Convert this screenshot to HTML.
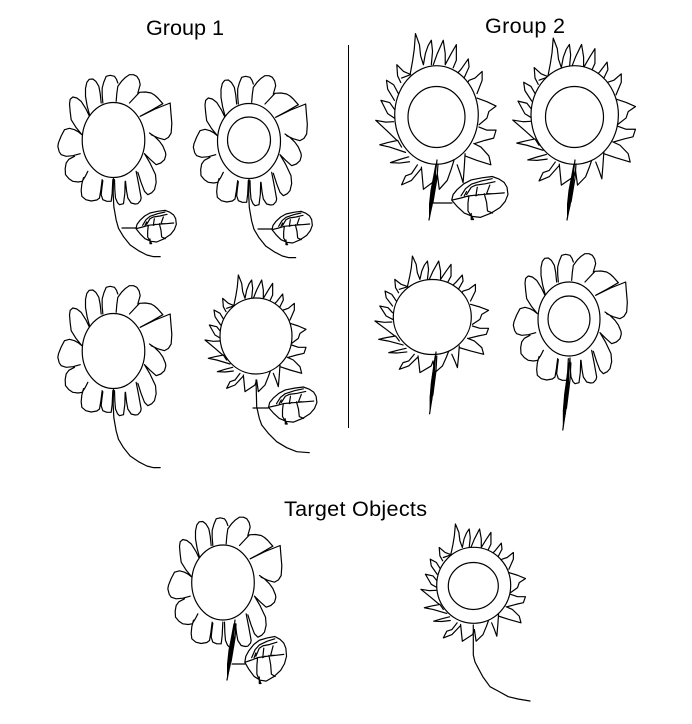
<!DOCTYPE html>
<html>
<head>
<meta charset="utf-8">
<style>
html,body{margin:0;padding:0;background:#fff;}
svg{display:block;}
.l{fill:none;stroke:#000;stroke-width:1.2;stroke-linejoin:round;stroke-linecap:round;vector-effect:non-scaling-stroke;}
.d{fill:#fff;stroke:#000;stroke-width:1.2;vector-effect:non-scaling-stroke;}
text{font-family:"Liberation Sans",sans-serif;font-size:21.6px;fill:#000;}
</style>
</head>
<body>
<svg width="692" height="724" viewBox="0 0 692 724" xmlns="http://www.w3.org/2000/svg">
<defs>
<g id="petals" transform="translate(-190,-240)">
<path class="l" d="M118 169L108 148 93 124 80 114 68 111 60 118 58 132 60 155 63 179 78 203 95 224
M95 224L84 215 73 209 58 205 43 209 33 228 25 248 23 259 27 275 33 284 48 289 68 287 90 281
M73 289L56 298 48 309 45 326 46 344 56 356 68 364 84 366 96 364 106 348 113 334
M100 353L95 372 93 392 95 409 107 419 123 423 140 420 148 414 152 390 156 359
M158 362L155 385 153 404 158 419 170 424 183 424 186 400 188 359
M193 359L194 390 196 414 202 428 208 434 220 431 224 400 225 364
M226 364L229 392 233 414 243 429 255 432 263 431 271 422 273 414 266 375 258 334
M263 337L273 368 283 394 293 404 305 398 313 389 318 368 316 344 300 310 283 281
M283 281L300 298 318 314 332 309 343 299 347 285 346 277 338 258 328 244 314 230 298 219
M303 224L322 233 343 239 355 232 363 219 365 190 362 155 360 129 315 147 270 169
M270 169L305 150 338 131 330 122 323 114 313 105 303 99 286 96 268 97 252 114 238 129
M198 124L200 100 203 79 214 64 226 52 238 44 250 44 260 49 267 60 270 74 263 99
M158 129L156 105 156 84 161 66 168 49 180 46 193 49 199 58 203 69
M153 129L150 100 146 79 137 64 128 57 117 58 110 67 106 85 106 109 111 138 118 164"/>
</g>
<g id="curve" transform="translate(-190,-240)">
<path class="l" d="M190 352L189 400 191 440 198 480 205 505 220 530 240 555 265 572 290 585 310 590 330 590"/>
</g>
<g id="leaf">
<path class="l" d="M-60 5L-57 -8 -48 -20 -34 -33 -18 -42 5 -47 27 -50 42 -44 53 -36 59 -25 61 -8 55 8 44 22 25 35 2 45 -15 43 -33 35 -48 20 -60 5
M-60 5L-40 0 -23 -5 5 -8 30 -10 53 -12
M-40 -5L-30 -22 -18 -32 5 -40 27 -45
M-28 -8L-18 -25 -8 -30 12 -33 33 -38
M-23 -5L-25 12 -25 30 -18 42 -13 50 -18 50 -18 36
M10 -10L15 10 17 30 28 35
M-5 -25L-8 -5 -2 -8
M22 -30L15 -10 30 -10
M-33 -5L-28 -15"/>
</g>
<g id="spikes" transform="translate(-168,-198)">
<path class="l" d="M102 105L108 75 112 50 115 15 125 40 128 65 135 85
M135 85L140 60 147 42 155 30 158 55 155 85
M160 85L170 60 185 30 190 60 190 85
M190 85L205 60 218 40 218 75 210 92
M213 112L230 95 248 72 250 90 235 120
M240 135L250 120 265 115 283 100 283 120 270 150
M270 160L295 168 318 178 300 190 295 205 275 220
M275 225L295 232 318 232 312 250 290 255 265 262
M262 262L280 270 300 290 305 310 270 300 240 290
M240 285L238 315 235 350 228 330 220 310
M212 300L205 320 195 345 175 365 170 330 165 345 135 365 130 315
M120 310L105 330 90 335 80 355 105 345 130 318
M98 292L75 298 52 305 75 306 100 303
M80 270L70 255 45 260 25 265 50 270 90 282
M68 255L45 235 15 210 40 214 60 213
M62 205L45 195 28 165 50 170 62 185
M75 155L60 130 42 120 45 140 62 165
M78 125L70 110 68 85 85 100 103 107 80 115"/>
</g>
<g id="dark">
<path class="l" d="M0 0L-2 16 -3 28 -5 44 -8 60 M-1 4L-5 26 -7 44 M1 4L0 18 -2 30 -4 42"/>
<path d="M-1 8L-1 20 -2.500 34 -4.500 46 -8 60 -8 44 -6.500 30 -4 18Z" fill="#000"/>
</g>
</defs>

<text x="146" y="35" textLength="78">Group 1</text>
<text x="485" y="33" textLength="80">Group 2</text>
<text x="284" y="516" textLength="143">Target Objects</text>
<line x1="348.5" y1="45" x2="348.5" y2="428" stroke="#000" stroke-width="1"/>

<!-- Group 1, flower 1 -->
<g transform="translate(113.5,140) scale(.3333)"><use href="#petals"/><use href="#curve"/></g>
<ellipse class="d" cx="113.5" cy="140" rx="31.3" ry="37.5"/>
<line class="l" x1="122" y1="228" x2="136" y2="228"/>
<g transform="translate(156,227) scale(.3333)"><use href="#leaf"/></g>

<!-- Group 1, flower 2 -->
<g transform="translate(249,141) scale(.3333)"><use href="#petals"/><use href="#curve"/></g>
<ellipse class="d" cx="249" cy="141" rx="31.5" ry="37.5"/>
<ellipse class="d" cx="249" cy="140" rx="21.5" ry="23"/>
<line class="l" x1="258" y1="229" x2="272" y2="229"/>
<g transform="translate(292,228) scale(.3333)"><use href="#leaf"/></g>

<!-- Group 1, flower 3 -->
<g transform="translate(113.5,351) scale(.3333)"><use href="#petals"/><use href="#curve"/></g>
<ellipse class="d" cx="113.5" cy="351" rx="31.3" ry="37.5"/>

<!-- Group 1, flower 4 -->
<g transform="translate(256,336) scale(.3333)"><use href="#spikes"/></g>
<path class="l" d="M256 380L256.700 406.700 259.300 418.300 261.700 425 268.300 433.300 276.700 441.700 286.700 447.700 296.700 451.700 309.300 452.700"/>
<ellipse class="d" cx="256" cy="336" rx="36" ry="38"/>
<line class="l" x1="253" y1="408" x2="268" y2="408"/>
<g transform="translate(292.500,405.500) scale(.4,.37)"><use href="#leaf"/></g>

<!-- Group 2, flower 1 -->
<g transform="translate(436.500,115) scale(.397,.445)"><use href="#spikes"/></g>
<ellipse class="d" cx="436.500" cy="115" rx="41.800" ry="49.300"/>
<ellipse class="d" cx="436.500" cy="117" rx="28.500" ry="30.500"/>
<g transform="translate(437,160)"><use href="#dark"/></g>
<line class="l" x1="433" y1="203" x2="452" y2="203"/>
<g transform="translate(479.600,198) scale(.465,.43)"><use href="#leaf"/></g>

<!-- Group 2, flower 2 -->
<g transform="translate(574.700,115) scale(.405,.42)"><use href="#spikes"/></g>
<ellipse class="d" cx="574.700" cy="115" rx="43.700" ry="49.300"/>
<ellipse class="d" cx="574.500" cy="117" rx="29" ry="30.500"/>
<g transform="translate(575,160)"><use href="#dark"/></g>

<!-- Group 2, flower 3 -->
<g transform="translate(432.300,317) scale(.375,.333)"><use href="#spikes"/></g>
<ellipse class="d" cx="432.300" cy="317" rx="39" ry="37.500"/>
<g transform="translate(436,352) scale(.8,1.03)"><use href="#dark"/></g>

<!-- Group 2, flower 4 -->
<g transform="translate(569,319) scale(.3333)"><use href="#petals"/></g>
<ellipse class="d" cx="569" cy="319" rx="31" ry="37"/>
<ellipse class="d" cx="569" cy="319" rx="21" ry="23"/>
<g transform="translate(570,358) scale(.9,1.2)"><use href="#dark"/></g>

<!-- Target 1 -->
<g transform="translate(223.500,582.500) scale(.3333)"><use href="#petals"/></g>
<ellipse class="d" cx="223" cy="582.500" rx="31.300" ry="37.500"/>
<g transform="translate(235,620)"><use href="#dark"/></g>
<line class="l" x1="232" y1="664" x2="245" y2="664"/>
<g transform="translate(265.500,660) scale(.345,.47)"><use href="#leaf"/></g>

<!-- Target 2 -->
<g transform="translate(473.700,585.300) scale(.345,.335)"><use href="#spikes"/></g>
<path class="l" d="M473.300 625L473.300 655 475 662 478.300 668.300 483 677 490 686.700 498 691 508.300 696.700 518 699 530 701"/>
<ellipse class="d" cx="473.700" cy="585.300" rx="37" ry="38"/>
<ellipse class="d" cx="473.300" cy="586" rx="25" ry="23.500"/>
</svg>
</body>
</html>
